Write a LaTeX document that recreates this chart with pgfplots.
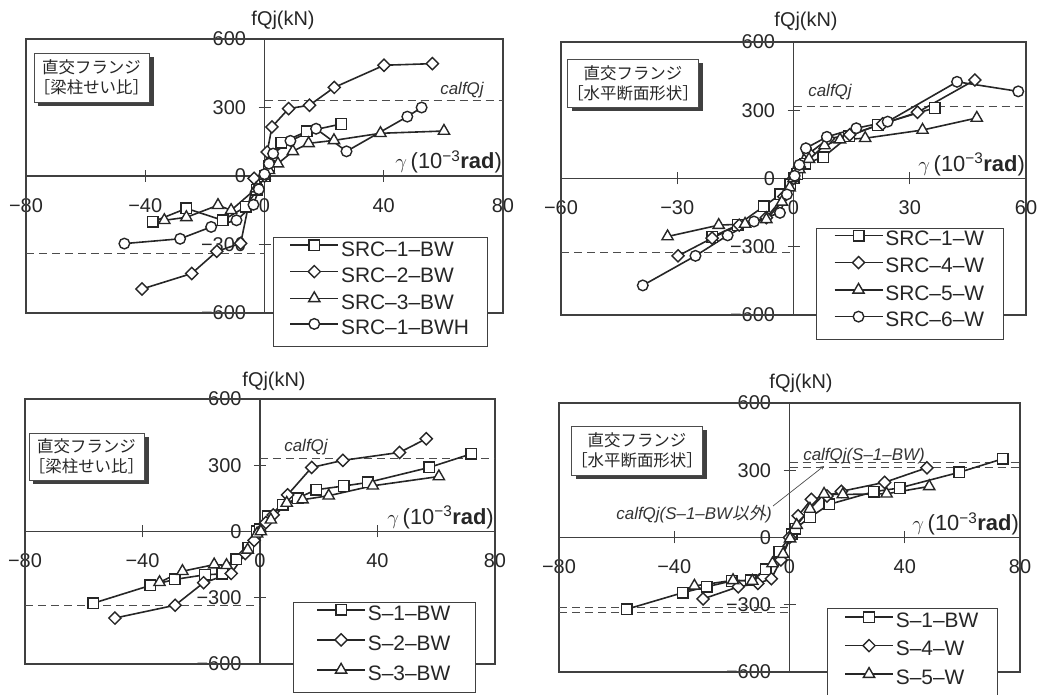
\documentclass[border=0pt]{standalone}
\usepackage{fontspec}
\setmainfont{Liberation Sans}
\newfontfamily\jp{Noto Sans CJK JP}
\newfontfamily\jpit[FakeSlant=0.2]{Noto Sans CJK JP}
\usepackage{pgfplots}
\pgfplotsset{compat=1.18}
\usetikzlibrary{shadows}

\pgfplotsset{
  panel/.style={
    scale only axis, clip=false,
    axis x line*=middle, axis y line*=middle,
    axis line style={black!75, line width=1.1bp},
    ymin=-600, ymax=600,
    ytick={-600,-300,0,300,600},
    yticklabels={−600,−300,0,300,600},
    hide obscured x ticks=false, hide obscured y ticks=false,
    major tick length=12bp, tick align=center,
    major tick style={black!75, line width=1.1bp},
    tick label style={font=\fontsize{20}{20}\selectfont, text=black!85},
    xticklabel style={yshift=-13bp},
    yticklabel style={xshift=-9bp},
    legend cell align=left,
    legend image code/.code={\draw[mark repeat=2,mark phase=2, yshift=7.5bp] plot coordinates {(0bp,0bp) (24bp,0bp) (48bp,0bp)};},
    legend style={draw=black!75, line width=0.8bp, fill=white, text=black!85,
      font=\fontsize{21}{21}\selectfont, anchor=north west, row sep=0pt},
  },
  ser/.style={black!85, line width=1.6bp},
  sq/.style={mark=square*, mark size=5.3bp, mark options={fill=white, solid, line width=1.4bp}},
  di/.style={mark=square*, mark size=4.3bp, mark options={fill=white, solid, line width=1.4bp, rotate=45}},
  tr/.style={mark=triangle*, mark size=6.5bp, mark options={fill=white, solid, line width=1.4bp}},
  ci/.style={mark=*, mark size=5.3bp, mark options={fill=white, solid, line width=1.4bp}},
}
\tikzset{refl/.style={black!70, line width=0.9bp, dash pattern=on 8bp off 5bp}}
\newcommand{\gam}{\node[anchor=base east, font=\fontsize{22}{22}\selectfont, text=black!85, inner sep=1bp]}
\newcommand{\gtext}{$\gamma$\,(10\textsuperscript{−3}\textbf{rad})}
\tikzset{lbox/.style={draw=black!70, line width=0.9bp, fill=white, align=center,
  font=\jp\fontsize{16.5}{20}\selectfont, text=black!85, inner sep=0pt,
  drop shadow={shadow xshift=4.5bp, shadow yshift=-4.5bp, fill=black!75, opacity=1}}}

\begin{document}
\begin{tikzpicture}
\useasboundingbox (0,0) rectangle (1048bp,695bp);

% ---------------- Panel 1 ----------------
\begin{axis}[panel, at={(26bp,382bp)}, anchor=south west, width=477bp, height=274bp,
  xmin=-80, xmax=80, xtick={-80,-40,0,40,80}, xticklabels={−80,−40,0,40,80},
  legend style={at={(0.518,0.277)}, inner xsep=16bp, inner ysep=2.5bp,
    nodes={inner ysep=0pt, text height=16bp, text depth=9.5bp}}]
\draw[black!75, line width=1.1bp] (rel axis cs:0,0) rectangle (rel axis cs:1,1);
\draw[refl] (axis cs:0,332) -- (axis cs:80,332);
\draw[refl] (axis cs:-80,-341) -- (axis cs:0,-341);
\addplot[ser, sq] coordinates {(-37.5,-201) (-26.2,-142) (-14,-194) (-6.3,-135) (-2.5,-60) (0,0) (1.5,45) (5.6,146) (14.2,195) (25.8,228)};
\addlegendentry{SRC–1–BW}
\addplot[ser, di] coordinates {(-41.1,-495) (-24.4,-427) (-16,-330) (-8,-295) (-3.5,-10) (0,0) (0.9,105) (2.5,215) (8.1,295) (15.1,310) (23.4,388) (40.1,485) (56.3,492)};
\addlegendentry{SRC–2–BW}
\addplot[ser, tr] coordinates {(-33.6,-194) (-26.2,-181) (-15.6,-128) (-11.2,-150) (-2.8,-55) (0,0) (1.5,25) (4.5,54) (9.5,108) (14.8,143) (23.3,156) (38.9,187) (60.2,197)};
\addlegendentry{SRC–3–BW}
\addplot[ser, ci] coordinates {(-47,-296) (-28.3,-275) (-17.9,-223) (-9.4,-194) (-3.7,-126) (-1.9,-58) (0,8) (1.5,54) (2.9,98) (8.7,154) (17.3,207) (27.5,108) (47.9,260) (52.7,300)};
\addlegendentry{SRC–1–BWH}
\gam at (axis cs:80,0) [yshift=7bp] {\gtext};
\end{axis}

% ---------------- Panel 2 ----------------
\begin{axis}[panel, at={(561bp,380bp)}, anchor=south west, width=465bp, height=273bp,
  xmin=-60, xmax=60, xtick={-60,-30,0,30,60}, xticklabels={−60,−30,0,30,60},
  legend style={at={(0.548,0.319)}, inner xsep=17.5bp, inner ysep=1.5bp,
    nodes={inner ysep=0pt, text height=16bp, text depth=10.7bp}}]
\draw[black!75, line width=1.1bp] (rel axis cs:0,0) rectangle (rel axis cs:1,1);
\draw[refl] (axis cs:0,317) -- (axis cs:60,317);
\draw[refl] (axis cs:-60,-325) -- (axis cs:0,-325);
\addplot[ser, sq] coordinates {(-21,-257) (-14.4,-204) (-7.7,-123) (-3.4,-70) (-0.8,-25) (0,0) (1,20) (3,65) (7.7,94) (14.3,186) (21.7,235) (36.4,310)};
\addlegendentry{SRC–1–W}
\addplot[ser, di] coordinates {(-29.8,-340) (-21,-262) (-14,-205) (-7,-172) (-2.5,-80) (0,0) (1.5,50) (4,110) (9,175) (14.5,192) (23,240) (32,291) (46.8,433)};
\addlegendentry{SRC–4–W}
\addplot[ser, tr] coordinates {(-32.5,-255) (-19.3,-205) (-12.5,-200) (-7,-180) (-3,-103) (-1,-40) (0,0) (1.5,40) (4,85) (8,145) (12,171) (18.5,177) (33.3,213) (47.3,266)};
\addlegendentry{SRC–5–W}
\addplot[ser, ci] coordinates {(-38.9,-470) (-25.3,-340) (-17,-250) (-10.2,-189) (-3.5,-151) (-1.7,-70) (0.3,12) (1.5,60) (3.2,133) (8.6,183) (16.2,221) (24.3,250) (42.2,425) (58,383)};
\addlegendentry{SRC–6–W}
\gam at (axis cs:60,0) [yshift=7bp] {\gtext};
\end{axis}

% ---------------- Panel 3 ----------------
\begin{axis}[panel, at={(25bp,31bp)}, anchor=south west, width=470bp, height=265bp,
  xmin=-80, xmax=80, xtick={-80,-40,0,40,80}, xticklabels={−80,−40,0,40,80},
  legend style={at={(0.570,0.234)}, inner xsep=23bp, inner ysep=0bp,
    nodes={inner ysep=0pt, text height=18bp, text depth=12bp}}]
\draw[black!75, line width=1.1bp] (rel axis cs:0,0) rectangle (rel axis cs:1,1);
\draw[refl] (axis cs:0,332) -- (axis cs:80,332);
\draw[refl] (axis cs:-80,-335) -- (axis cs:0,-335);
\addplot[ser, sq] coordinates {(-56.8,-325) (-37.3,-244) (-29,-217) (-18.7,-196) (-12.8,-192) (-8.1,-126) (-4,-75) (-1,0) (0,10) (2.6,68) (7.7,121) (12.8,151) (19.1,189) (28.5,206) (36.7,222) (57.6,290) (72,352)};
\addlegendentry{S–1–BW}
\addplot[ser, di] coordinates {(-49.4,-392) (-28.9,-334) (-19.2,-232) (-9.8,-190) (-5,-100) (-2,-40) (0,0) (2,40) (4.5,75) (9.4,166) (17.6,290) (28.2,322) (47.5,358) (56.6,420)};
\addlegendentry{S–2–BW}
\addplot[ser, tr] coordinates {(-34.2,-230) (-26.4,-180) (-15.6,-150) (-11.4,-153) (-4.2,-83) (-1,-10) (0.3,0) (3.7,53) (9.1,129) (14.5,144) (23.4,162) (38.4,207) (60.9,249)};
\addlegendentry{S–3–BW}
\gam at (axis cs:80,0) [yshift=7bp] {\gtext};
\end{axis}

% ---------------- Panel 4 ----------------
\begin{axis}[panel, at={(559bp,23bp)}, anchor=south west, width=461bp, height=269bp,
  xmin=-80, xmax=80, xtick={-80,-40,0,40,80}, xticklabels={−80,−40,0,40,80},
  legend style={at={(0.581,0.238)}, inner xsep=17bp, inner ysep=2bp,
    nodes={inner ysep=0pt, text height=17bp, text depth=11.5bp}}]
\draw[black!75, line width=1.1bp] (rel axis cs:0,0) rectangle (rel axis cs:1,1);
\draw[refl] (axis cs:0,336) -- (axis cs:80,336);
\draw[refl] (axis cs:0,313) -- (axis cs:80,313);
\draw[refl] (axis cs:-80,-313) -- (axis cs:0,-313);
\draw[refl] (axis cs:-80,-336) -- (axis cs:0,-336);
\addplot[ser, sq] coordinates {(-56.5,-320) (-37,-246) (-28.8,-220) (-20.1,-194) (-13.4,-191) (-8.2,-142) (-3.6,-63) (0.7,15) (2,40) (7.1,90) (13.8,148) (29.2,204) (38.2,221) (59,291) (74,351)};
\addlegendentry{S–1–BW}
\addplot[ser, di] coordinates {(-30,-274) (-17.8,-220) (-11,-205) (-6.3,-184) (-3,-100) (0,0) (3,97) (7.6,170) (13,185) (18,206) (33,246) (47.7,311)};
\addlegendentry{S–4–W}
\addplot[ser, tr] coordinates {(-33,-216) (-19.6,-191) (-12.9,-194) (-5.9,-116) (-2.2,-74) (0.2,-5) (2.5,55) (7.1,127) (12,194) (18.5,192) (33.7,195) (48.5,228)};
\addlegendentry{S–5–W}
\gam at (axis cs:80,0) [yshift=7bp] {\gtext};
\end{axis}

% ---------------- annotations ----------------
\tikzset{ylab/.style={anchor=base, font=\fontsize{20}{20}\selectfont, text=black!85, inner sep=0pt},
  cal/.style={font=\itshape\fontsize{17}{17}\selectfont, text=black!80, inner sep=0pt}}
\node[ylab] at (283bp,669bp) {fQj(kN)};
\node[ylab] at (806bp,668bp) {fQj(kN)};
\node[ylab] at (274bp,308bp) {fQj(kN)};
\node[ylab] at (801bp,306bp) {fQj(kN)};

\node[cal] at (462bp,605bp) {calfQj};
\node[cal] at (830bp,603bp) {calfQj};
\node[cal] at (306bp,248bp) {calfQj};
\node[cal] at (864bp,239bp) {calfQj(S–1–BW)};
\node[cal] at (694bp,181bp) {calfQj(S–1–BW{\jpit 以外})};
\draw[black!70, line width=0.7bp, -stealth] (773bp,189bp) -- (824bp,229bp);

\node[lbox, minimum width=111bp, minimum height=49bp] at (91.5bp,617.5bp) {直交フランジ\\［梁柱せい比］};
\node[lbox, minimum width=128bp, minimum height=48bp] at (633bp,612bp) {直交フランジ\\［水平断面形状］};
\node[lbox, minimum width=111bp, minimum height=47bp] at (86.5bp,238.5bp) {直交フランジ\\［梁柱せい比］};
\node[lbox, minimum width=130bp, minimum height=49bp] at (637bp,244.5bp) {直交フランジ\\［水平断面形状］};
\end{tikzpicture}
\end{document}
